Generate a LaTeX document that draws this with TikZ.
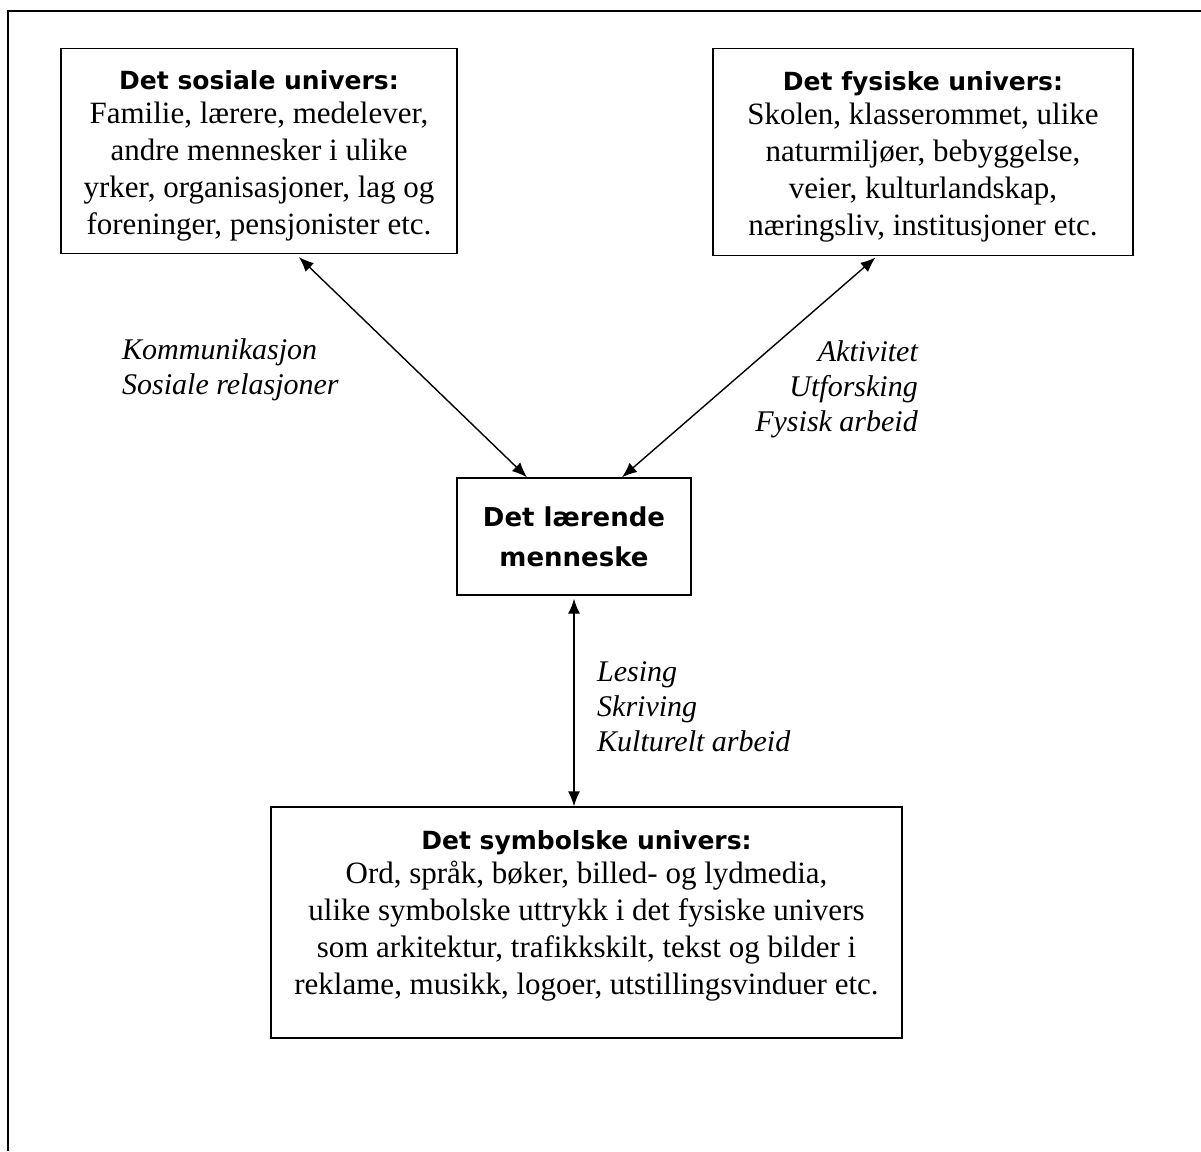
\documentclass[tikz,border=0pt]{standalone}
\usepackage{fontspec}
\setmainfont{Liberation Serif}
\newfontfamily\titlefont{DejaVu Sans}
\usepackage{tikz}
\usetikzlibrary{arrows.meta}
\tikzset{
    univers/.style={draw=black, line width=1.4pt, align=center, inner sep=0pt,
        font=\fontsize{31}{37}\selectfont},
    relasjon/.style={inner sep=0pt, font=\fontsize{30}{35}\selectfont\itshape},
    >={Latex[length=15pt, width=12pt]}}
\newcommand{\tittel}[1]{{\titlefont\bfseries\fontsize{25}{30}\selectfont\rule{0pt}{29pt}#1}}

\begin{document}
\begin{tikzpicture}[x=1pt, y=-1pt]

            \useasboundingbox (0,0) rectangle (1201,1151);
            \draw[line width=1.4pt] (8,1151) -- (8,11) -- (1201,11);

            \node[univers, minimum width=396pt, minimum height=205pt] (S) at (259,151)
                {\tittel{Det sosiale univers:}\\[-3pt]
                 Familie, lærere, medelever,\\ andre mennesker i ulike\\
                 yrker, organisasjoner, lag og\\ foreninger, pensjonister etc.};
            \node[univers, minimum width=420pt, minimum height=207pt] (F) at (923,152)
                {\tittel{Det fysiske univers:}\\[-3pt]
                 Skolen, klasserommet, ulike\\ naturmiljøer, bebyggelse,\\
                 veier, kulturlandskap,\\ næringsliv, institusjoner etc.};
            \node[univers, minimum width=234pt, minimum height=117pt,
                font=\titlefont\bfseries\fontsize{26}{40}\selectfont] (M) at (574,536.5)
                {Det lærende\\ menneske};
            \node[univers, minimum width=631pt, minimum height=231pt] (Sy) at (586.5,922.5)
                {\tittel{Det symbolske univers:}\\[-3pt]
                 Ord, språk, bøker, billed- og lydmedia,\\
                 ulike symbolske uttrykk i det fysiske univers\\
                 som arkitektur, trafikkskilt, tekst og bilder i\\
                 reklame, musikk, logoer, utstillingsvinduer etc.\rule[-31pt]{0pt}{1pt}};

            % relasjoner mellom universene
            \node[relasjon, anchor=north west, align=left] (k) at (122,338)
                {Kommunikasjon\\ Sosiale relasjoner};
            \node[relasjon, anchor=north east, align=right] (a) at (918,340)
                {Aktivitet\\ Utforsking\\ Fysisk arbeid};
            \node[relasjon, anchor=north west, align=left] (l) at (597,661)
                {Lesing\\ Skriving\\ Kulturelt arbeid};

            \draw[<->, line width=1.4pt, shorten <=4pt] ([xshift=37pt]S.south) -- ([xshift=-47pt]M.north);
            \draw[<->, line width=1.4pt, shorten <=2pt] ([xshift=-46pt]F.south) -- ([xshift=48pt]M.north);
            \draw[<->, line width=1.4pt, shorten <=3pt] (M.south) -- (M.south |- Sy.north);

        \end{tikzpicture}
\end{document}
